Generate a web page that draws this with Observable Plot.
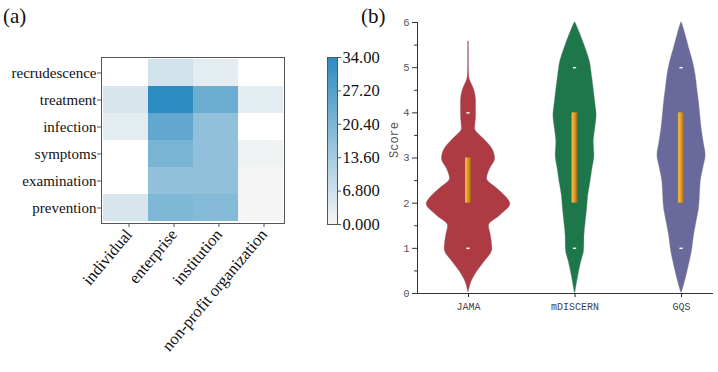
<!DOCTYPE html>
<html>
<head>
<meta charset="utf-8">
<script src="https://cdn.jsdelivr.net/npm/d3@7"></script>
<script src="https://cdn.jsdelivr.net/npm/@observablehq/plot@0.6"></script>
<style>
  body { margin: 0; background: #fff; }
  #fig { position: relative; width: 718px; height: 372px; overflow: hidden; background: #fff; }
  #fig svg { position: absolute; top: 0; background: transparent; }
  .tag { position: absolute; z-index: 2; font-family: "Liberation Serif", serif; font-size: 21px; line-height: 1; color: #111; }
</style>
</head>
<body>
<div id="fig"></div>
<script>
// ---------- (a) topic × publisher counts ----------
const topics = ["recrudescence", "treatment", "infection", "symptoms", "examination", "prevention"];
const publishers = ["individual", "enterprise", "institution", "non-profit organization"];
// one array per publisher, in topic order (null = no videos)
const individualCounts  = [null, 5, 3, null, null, 5];
const enterpriseCounts  = [6, 34, 25, 21, 17, 20];
const institutionCounts = [3, 23, 17, 17, 17, 19];
const nonprofitCounts   = [null, 3, null, 1, 0, 0];
const legendTicks = [0, 6.8, 13.6, 20.4, 27.2, 34];

// ---------- (b) quality scores ----------
const instruments = ["JAMA", "mDISCERN", "GQS"];
const violinColors = ["#ae3a44", "#1d774a", "#6a699b"];
// [score, relative density] along each violin
const jamaProfile = [[0.04,0.012],[0.1,0.024],[0.24,0.067],[0.47,0.2],[0.69,0.376],[0.98,0.571],[1.28,0.536],[1.5,0.49],[1.72,0.755],[1.98,1.0],[2.09,0.94],[2.32,0.69],[2.54,0.445],[2.76,0.517],[2.98,0.636],[3.2,0.571],[3.43,0.357],[3.65,0.16],[3.94,0.183],[4.24,0.183],[4.54,0.126],[4.7,0.048],[4.8,0.02],[5.0,0.014],[5.58,0.012]];
const mdiscernProfile = [[0.02,0.01],[0.1,0.024],[0.39,0.079],[0.69,0.148],[0.98,0.221],[1.28,0.226],[1.58,0.257],[1.87,0.29],[2.17,0.317],[2.46,0.369],[2.76,0.417],[3.06,0.464],[3.35,0.448],[3.65,0.483],[3.94,0.517],[4.24,0.483],[4.54,0.445],[4.83,0.405],[5.13,0.357],[5.42,0.257],[5.72,0.138],[6.0,0.01]];
const gqsProfile = [[0.02,0.01],[0.1,0.036],[0.39,0.119],[0.69,0.195],[0.98,0.257],[1.28,0.298],[1.58,0.357],[1.87,0.417],[2.17,0.44],[2.46,0.457],[2.76,0.517],[3.06,0.576],[3.35,0.529],[3.65,0.481],[3.94,0.448],[4.24,0.417],[4.54,0.376],[4.83,0.338],[5.13,0.274],[5.42,0.186],[5.72,0.1],[6.0,0.01]];
const quartile1 = [2, 2, 2];
const quartile3 = [3, 4, 4];
const lowMarks  = [1, 1, 1];
const highMarks = [4, 5, 5];

const fig = document.getElementById("fig");
const colorScale = {type: "linear", domain: [0, 34], range: ["#f5f5f5", "#2c8bc1"], interpolate: "rgb"};
const serif = "Liberation Serif, Times New Roman, serif";
const mono = "Liberation Mono, DejaVu Sans Mono, monospace";

// heatmap
const countColumns = [individualCounts, enterpriseCounts, institutionCounts, nonprofitCounts];
const cells = [];
publishers.forEach((p, j) => topics.forEach((t, i) => {
  const v = countColumns[j][i];
  if (v != null) cells.push({publisher: p, topic: t, count: v});
}));

const heat = Plot.plot({
  width: 300, height: 372,
  marginLeft: 101, marginTop: 57, marginRight: 16, marginBottom: 149,
  style: {fontFamily: serif, fontSize: "15px", color: "#111", background: "transparent"},
  x: {domain: publishers, padding: 0},
  y: {domain: topics, padding: 0},
  color: colorScale,
  marks: [
    Plot.cell(cells, {x: "publisher", y: "topic", fill: "count", inset: 0}),
    Plot.frame({stroke: "#555"}),
    Plot.axisY({tickSize: 4, tickPadding: 1, label: null, stroke: "#555", fontSize: 15, fill: "#111"}),
    Plot.axisX({tickSize: 4, tickPadding: 4, tickRotate: -50, label: null, stroke: "#555", fontSize: 16.5, fill: "#111", dx: 3})
  ]
});
heat.style.left = "0px";
fig.appendChild(heat);

// vertical colour bar
const rampStep = 34 / 168;
const ramp = d3.range(0, 34, rampStep).map(v => ({v0: v, v1: Math.min(34, v + rampStep), mid: v + rampStep / 2}));
const bar = Plot.plot({
  width: 80, height: 372,
  marginLeft: 27, marginRight: 43, marginTop: 57, marginBottom: 148,
  style: {fontFamily: serif, fontSize: "15px", color: "#111", background: "transparent"},
  x: {domain: [0, 1], axis: null},
  y: {domain: [0, 34]},
  color: colorScale,
  marks: [
    Plot.rect(ramp, {y1: "v0", y2: "v1", fill: "mid", shapeRendering: "crispEdges"}),
    Plot.frame({stroke: "#555"}),
    Plot.axisY({anchor: "right", ticks: legendTicks, tickFormat: d3.format(".4r"), tickSize: 3, tickPadding: 2, label: null, stroke: "#555", fontSize: 16.5, fill: "#111"})
  ]
});
bar.style.left = "300px";
fig.appendChild(bar);

// violins
const xDomain = [0.521, 3.3];
const halfWidth = 0.394;   // widest half-violin, in category units
const boxHalf = 0.028;
const dashHalf = 0.015;
const profiles = [jamaProfile, mdiscernProfile, gqsProfile];
const violinRows = profiles.flatMap((prof, i) => prof.map(([s, d]) => ({
  inst: instruments[i], score: s, lo: i + 1 - d * halfWidth, hi: i + 1 + d * halfWidth
})));
const boxes = instruments.map((inst, i) => ({pos: i + 1, lo: quartile1[i], hi: quartile3[i]}));
const dashes = instruments.flatMap((inst, i) => [
  {pos: i + 1, v: lowMarks[i]}, {pos: i + 1, v: highMarks[i]}
]);

const violin = Plot.plot({
  width: 358, height: 372,
  marginLeft: 57, marginRight: 5, marginTop: 22, marginBottom: 79,
  style: {fontFamily: mono, fontSize: "10px", color: "#444", background: "transparent"},
  x: {type: "linear", domain: xDomain},
  y: {domain: [0, 6]},
  color: {domain: instruments, range: violinColors},
  marks: [
    Plot.areaX(violinRows, {y: "score", x1: "lo", x2: "hi", z: "inst", fill: "inst", curve: "monotone-y",
      stroke: "#999", strokeOpacity: 0.35, strokeWidth: 1}),
    Plot.rect(boxes, {x1: d => d.pos - boxHalf, x2: d => d.pos + boxHalf, y1: "lo", y2: "hi", fill: "url(#boxGrad)"}),
    Plot.ruleY(dashes, {y: "v", x1: d => d.pos - dashHalf, x2: d => d.pos + dashHalf, stroke: "white", strokeWidth: 1.5}),
    Plot.ruleX([xDomain[0]], {stroke: "#333"}),
    Plot.ruleY([0], {stroke: "#333"}),
    Plot.axisY({ticks: d3.range(0, 7), tickFormat: d3.format("d"), tickSize: 5, tickPadding: 3, label: null, stroke: "#333", fontSize: 10.5, fill: "#555"}),
    Plot.axisY({ticks: d3.range(0.5, 6, 1), tickSize: 3, tickFormat: () => "", label: null, stroke: "#333"}),
    Plot.axisX({ticks: [1, 2, 3], tickFormat: i => instruments[i - 1], tickSize: 4, tickPadding: 5, label: null, stroke: "#222", fontSize: 10, fill: "#444"}),
    Plot.text(["Score"], {frameAnchor: "left", rotate: -90, dx: -23, fontSize: 12, fill: "#555"})
  ]
});
const svgNS = "http://www.w3.org/2000/svg";
const defs = document.createElementNS(svgNS, "defs");
defs.innerHTML = '<linearGradient id="boxGrad" x1="0" x2="1" y1="0" y2="0">' +
  '<stop offset="0" stop-color="#f7bd3e"/><stop offset="0.5" stop-color="#e29b2a"/><stop offset="1" stop-color="#9a6118"/></linearGradient>';
violin.insertBefore(defs, violin.firstChild);
violin.style.left = "360px";
fig.appendChild(violin);

// panel tags
for (const [txt, left] of [["(a)", 3], ["(b)", 361]]) {
  const t = document.createElement("div");
  t.className = "tag";
  t.textContent = txt;
  t.style.left = left + "px";
  t.style.top = "6px";
  fig.appendChild(t);
}
</script>
</body>
</html>
